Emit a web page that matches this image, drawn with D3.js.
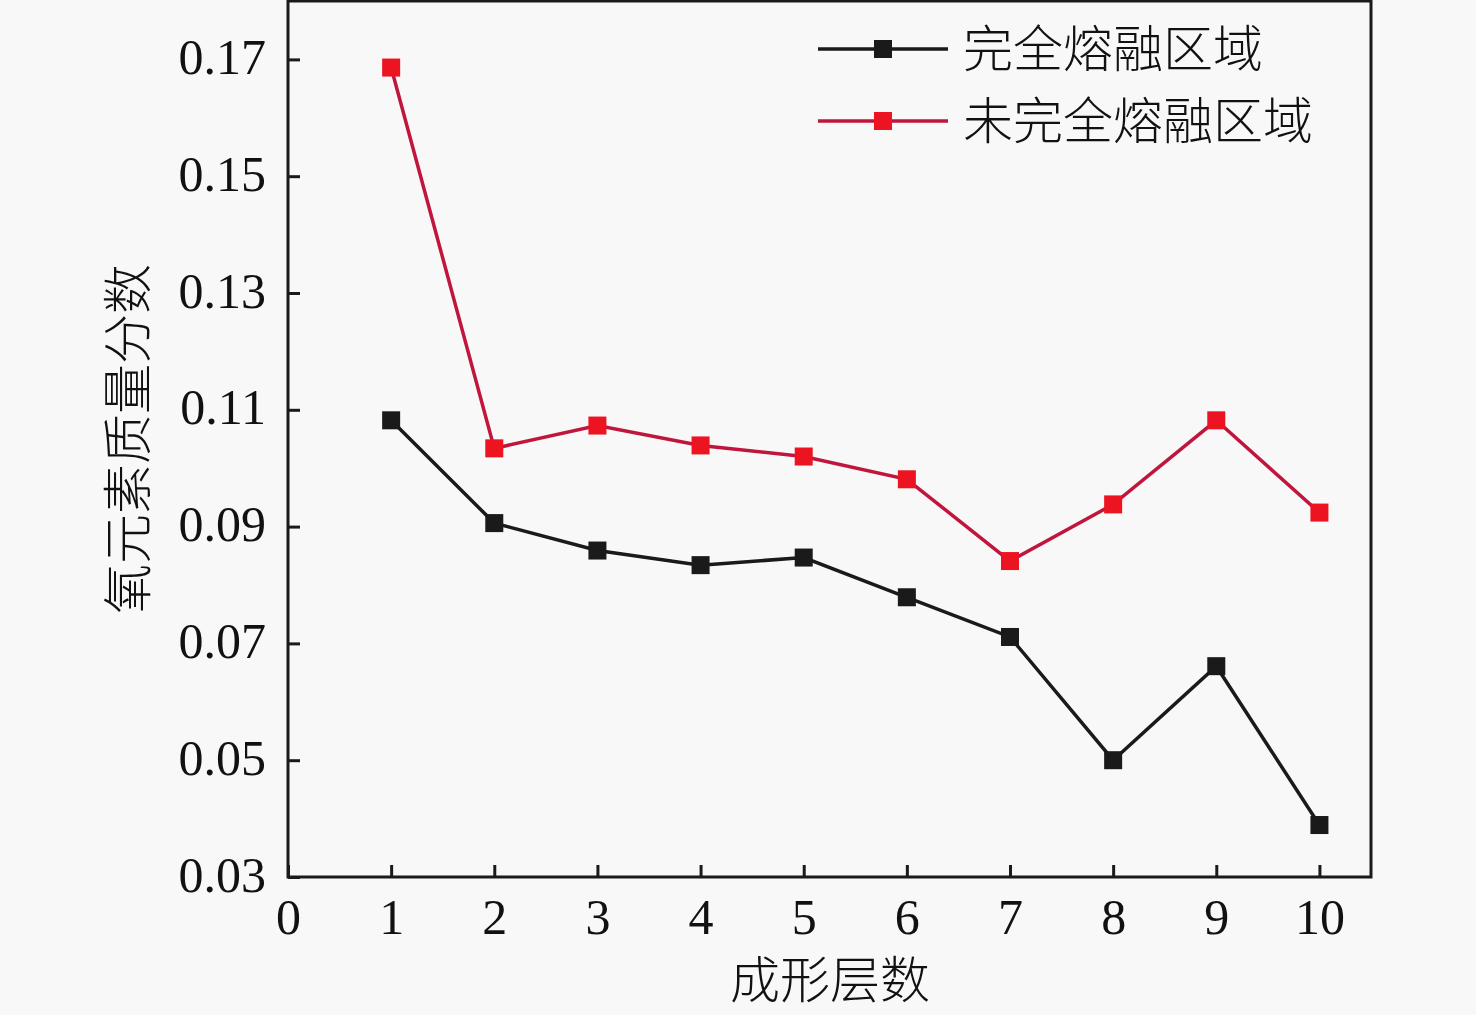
<!DOCTYPE html>
<html lang="zh">
<head>
<meta charset="UTF-8">
<title>氧元素质量分数</title>
<script src="https://d3js.org/d3.v7.min.js"></script>
<style>
    body { margin: 0; background: #f8f8f8; }
    svg { display: block; }
    .num { font-family: "Liberation Serif", "DejaVu Serif", serif; font-size: 50px; fill: #111; }
    .cjk { font-family: "Noto Sans CJK SC", sans-serif; font-weight: 300; font-size: 50px; fill: #111; }
</style>
</head>
<body>
<svg width="1476" height="1015"></svg>
<script>
    // data
    const layers = [1, 2, 3, 4, 5, 6, 7, 8, 9, 10];
    const fullMelt = [0.1082, 0.0906, 0.0859, 0.0834, 0.0847, 0.0779, 0.0711, 0.0500, 0.0661, 0.0389];
    const partMelt = [0.1686, 0.1034, 0.1073, 0.1039, 0.1020, 0.0981, 0.0841, 0.0938, 0.1082, 0.0924];
    const xTicks = [0, 1, 2, 3, 4, 5, 6, 7, 8, 9, 10];
    const yTicks = [0.03, 0.05, 0.07, 0.09, 0.11, 0.13, 0.15, 0.17];
    const seriesNames = ["完全熔融区域", "未完全熔融区域"];

    const svg = d3.select("svg");
    const plotL = 288, plotR = 1371, plotT = 1, plotB = 877;

    const x = d3.scaleLinear().domain([0, 10.5]).range([plotL, plotR]);
    const y = d3.scaleLinear().domain([0.03, 0.18]).range([plotB, plotT]);

    // frame
    svg.append("rect")
        .attr("x", plotL).attr("y", plotT)
        .attr("width", plotR - plotL).attr("height", plotB - plotT)
        .attr("fill", "none").attr("stroke", "#1a1a1a").attr("stroke-width", 3);

    // axes, ticks pointing inward
    const xAxis = svg.append("g")
        .attr("transform", `translate(0,${plotB})`)
        .call(d3.axisBottom(x).tickValues(xTicks).tickSize(-12).tickPadding(21).tickFormat(d3.format("d")));
    const yAxis = svg.append("g")
        .attr("transform", `translate(${plotL},0)`)
        .call(d3.axisLeft(y).tickValues(yTicks).tickSize(-12).tickPadding(22).tickFormat(d3.format(".2f")));

    [xAxis, yAxis].forEach(g => {
        g.select(".domain").remove();
        g.selectAll(".tick line").attr("stroke", "#1a1a1a").attr("stroke-width", 3);
        g.selectAll(".tick text").attr("class", "num").attr("fill", "#111");
    });
    xAxis.selectAll(".tick text").attr("dy", "0.71em");
    yAxis.selectAll(".tick text").attr("dy", "0.28em");

    // axis titles
    svg.append("text")
        .attr("class", "cjk")
        .attr("x", 830).attr("y", 998)
        .attr("text-anchor", "middle")
        .text("成形层数");
    svg.append("text")
        .attr("class", "cjk")
        .attr("transform", "translate(146,439) rotate(-90)")
        .attr("text-anchor", "middle")
        .text("氧元素质量分数");

    const series = [
        { name: seriesNames[0], values: fullMelt, line: "#1a1a1a", fill: "#1a1a1a" },
        { name: seriesNames[1], values: partMelt, line: "#c0163e", fill: "#ec1420" }
    ];

    const line = d3.line()
        .x((d, i) => x(layers[i]))
        .y(d => y(d));

    const ms = 18;
    series.forEach(s => {
        svg.append("path")
            .datum(s.values)
            .attr("d", line)
            .attr("fill", "none")
            .attr("stroke", s.line)
            .attr("stroke-width", 3.5);
        svg.selectAll(null)
            .data(s.values)
            .enter()
            .append("rect")
            .attr("x", (d, i) => x(layers[i]) - ms / 2)
            .attr("y", d => y(d) - ms / 2)
            .attr("width", ms).attr("height", ms)
            .attr("fill", s.fill);
    });

    // legend
    const legend = svg.append("g");
    series.forEach((s, i) => {
        const ly = 49 + i * 72;
        legend.append("line")
            .attr("x1", 818).attr("x2", 948)
            .attr("y1", ly).attr("y2", ly)
            .attr("stroke", s.line).attr("stroke-width", 3.5);
        legend.append("rect")
            .attr("x", 883 - ms / 2).attr("y", ly - ms / 2)
            .attr("width", ms).attr("height", ms)
            .attr("fill", s.fill);
        legend.append("text")
            .attr("class", "cjk")
            .attr("x", 963).attr("y", ly)
            .attr("dy", "0.36em")
            .text(s.name);
    });
</script>
</body>
</html>
